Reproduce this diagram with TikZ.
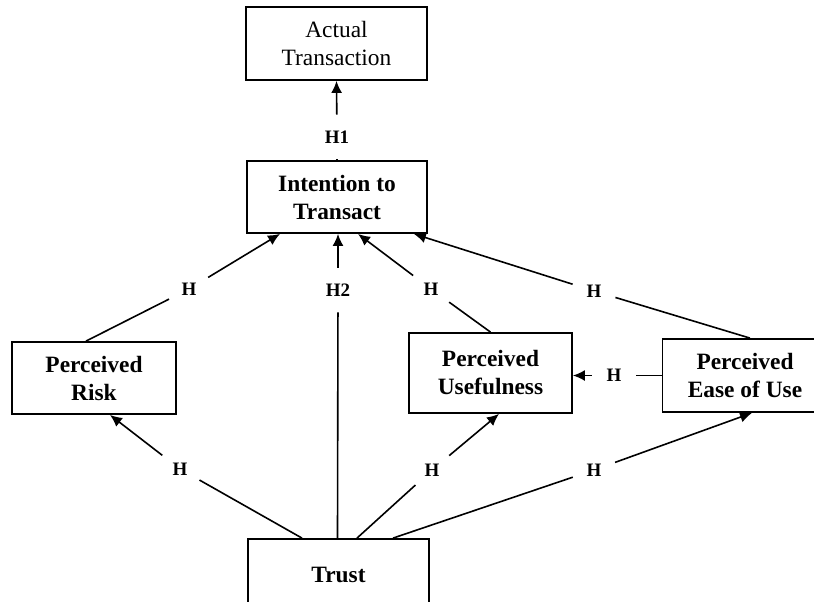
\documentclass[tikz,border=0pt]{standalone}
\usepackage{fontspec}
\setmainfont{Liberation Serif}
\usetikzlibrary{arrows.meta}
\tikzset{
    box/.style={draw, line width=0.9pt, align=center, inner sep=2pt,
        font=\fontsize{11.7}{14}\selectfont\bfseries},
    hyp/.style={circle, minimum size=22pt, inner sep=0pt,
        font=\fontsize{9.5}{11}\selectfont\bfseries},
    link/.style={line width=0.8pt},
    arr/.style={line width=0.8pt, -{Latex[length=6pt,width=5.5pt]}}
}

\begin{document}
\begin{tikzpicture}[x=0.5pt,y=-0.5pt]
  % Frame of the picture
    \useasboundingbox (0,0) rectangle (814,601);
    \clip (0,0) rectangle (814,601);

  % The constructs
    \node[box, font=\fontsize{11.7}{14}\selectfont, minimum width=90.5pt, minimum height=36.5pt]
      (actual) at (336.5,43.5) {Actual\\Transaction};
    \node[box, minimum width=90pt, minimum height=36pt] (intent) at (337,197) {Intention to\\Transact};
    \node[box, minimum width=82pt, minimum height=36pt] (risk) at (94,378) {Perceived\\Risk};
    \node[box, minimum width=81.5pt, minimum height=40pt] (useful) at (490.5,373) {Perceived\\Usefulness};
    \node[box, minimum width=82.5pt, minimum height=36.5pt] (ease) at (745,375.5) {Perceived\\Ease of Use};
    \node[box, minimum width=90.5pt, minimum height=36pt] (trust) at (338.5,575) {Trust};

  % Hypothesis labels
    \node[hyp] (h1) at (337,137) {H1};
    \node[hyp] (h2) at (338,290) {H2};
    \node[hyp] (hri) at (189,289) {H};
    \node[hyp] (hui) at (431,289) {H};
    \node[hyp] (hei) at (594,291) {H};
    \node[hyp] (htr) at (180,469) {H};
    \node[hyp] (htu) at (432,470) {H};
    \node[hyp] (hte) at (594,470) {H};
    \node[hyp] (heu) at (614,375.5) {H};

  % Paths
    \draw[link] (intent.north) -- (h1);
    \draw[arr] (h1) -- (actual.south);

    \draw[link] ([xshift=-4pt]risk.north) -- (hri);
    \draw[arr] (hri) -- ([xshift=-28.5pt]intent.south);

    \draw[link] ([xshift=-0.5pt]trust.north) -- (h2);
    \draw[arr] (h2) -- ([xshift=0.5pt]intent.south);

    \draw[link] (useful.north) -- (hui);
    \draw[arr] (hui) -- ([xshift=10.5pt]intent.south);

    \draw[link] ([xshift=2.5pt]ease.north) -- (hei);
    \draw[arr] (hei) -- ([xshift=-7pt]intent.south east);

    \draw[link] ([xshift=-18.25pt]trust.north) -- (htr);
    \draw[arr] (htr) -- ([xshift=8pt]risk.south);

    \draw[link] ([xshift=9.25pt]trust.north) -- (htu);
    \draw[arr] (htu) -- ([xshift=4.25pt]useful.south);

    \draw[link] ([xshift=27.25pt]trust.north) -- (hte);
    \draw[arr] (hte) -- ([xshift=3.5pt]ease.south);

    \draw[link] (ease.west) -- (heu);
    \draw[arr] (heu) -- (useful.east |- heu);
  \end{tikzpicture}
\end{document}
